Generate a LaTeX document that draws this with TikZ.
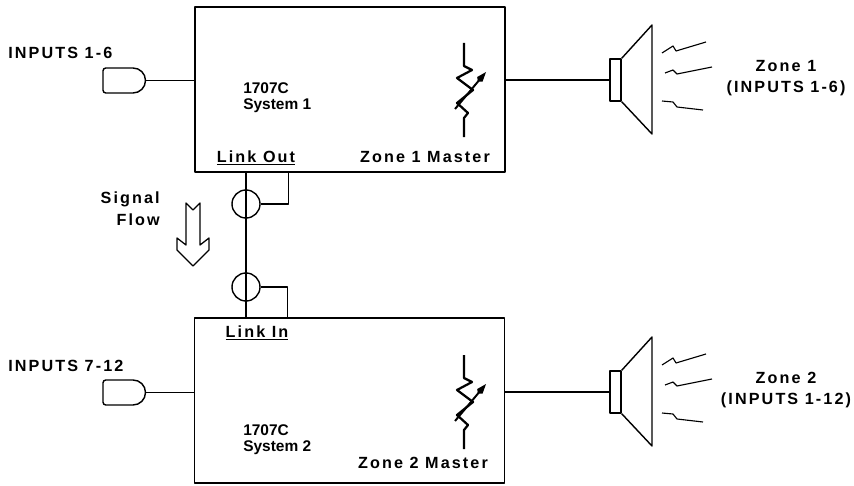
\documentclass[tikz,border=0pt]{standalone}
\usepackage{fontspec}
\setmainfont{Liberation Sans}
\newfontfamily\lblfont[LetterSpace=13]{Liberation Sans}
\usetikzlibrary{positioning,arrows.meta}

\tikzset{
  wire/.style={line width=1pt},
  sysbox/.style={draw, line width=1.2pt, minimum width=7.75cm, minimum height=4.125cm, inner sep=0pt},
  lbl/.style={font=\lblfont\bfseries\fontsize{11.5}{15}\selectfont, inner sep=0pt},
  boxtext/.style={font=\bfseries\fontsize{11}{11.5}\selectfont, inner sep=0pt, align=left},
  coax/.style={draw, circle, line width=1pt, minimum size=0.7cm, inner sep=0pt},
  magnet/.style={draw, line width=1pt, minimum width=0.275cm, minimum height=1.05cm, inner sep=0pt},
}

\begin{document}
\begin{tikzpicture}[x=0.025cm, y=0.025cm, line join=round]
  \useasboundingbox (0,0) rectangle (854,-486);

  \node[sysbox] (sys1) at (350,-89.5) {};
  \node[sysbox] (sys2) at (349.5,-400.5) {};

  \node[boxtext, anchor=north west] (name1) at (243,-82) {1707C\\System 1};
  \node[boxtext, anchor=north west] (name2) at (243,-424) {1707C\\System 2};
  \node[lbl] (linkout) at (256,-158) {\underline{Link Out}};
  \node[lbl] (linkin) at (257,-333) {\underline{Link In}};
  \node[lbl] (master1) at (425,-157) {Zone 1 Master};
  \node[lbl] (master2) at (423,-463) {Zone 2 Master};

  \foreach \i/\dy/\inp/\zone in {1/0/1-6/{(INPUTS 1-6)}, 2/312/7-12/{(INPUTS 1-12)}} {
    % input jack
    \draw[wire] (133,-68-\dy) [rounded corners=2pt] -- (103,-68-\dy) -- (103,-93-\dy)
      [sharp corners] -- (133,-93-\dy) arc[start angle=-90, end angle=90, radius=0.3125cm];
    \coordinate (jack\i) at (145.5,-80.5-\dy);
    \node[lbl, anchor=base west] (inlbl\i) at (8,-59-\dy) {INPUTS \inp};
    \draw[wire] (jack\i) -- (sys\i.west |- jack\i);
    % level control
    \draw[line width=1.6pt] (464,-43-\dy) -- (464,-66-\dy) -- (472,-70-\dy) -- (457,-78-\dy)
      -- (473,-90-\dy) -- (457,-103-\dy) -- (468,-113-\dy) -- (464,-118-\dy) -- (464,-137-\dy);
    \draw[line width=1.4pt, -{Kite[length=9pt, width=5pt]}] (455,-109-\dy) -- (486,-72-\dy);
    % speaker
    \node[magnet] (spk\i) at (615.5,-80-\dy) {};
    \draw[wire] (sys\i.east |- spk\i) -- (spk\i.west);
    \draw[wire] (spk\i.north east) -- (652,-25-\dy) -- (652,-134-\dy) -- (spk\i.south east);
    \draw[line width=0.8pt] (662,-53-\dy) -- (673,-46-\dy) -- (676,-51-\dy) -- (706,-42-\dy);
    \draw[line width=0.8pt] (665,-73-\dy) -- (673,-70-\dy) -- (677,-74-\dy) -- (712,-67-\dy);
    \draw[line width=0.8pt] (662,-101-\dy) -- (673,-102-\dy) -- (677,-107-\dy) -- (703,-110-\dy);
    \node[lbl, align=center] (zone\i) at (786,-78-\dy) {Zone \i\\\zone};
  }

  % link cable
  \node[coax] (lnkout) at (246,-204) {};
  \node[coax] (lnkin) at (246,-287) {};
  \draw[wire] (sys1.south -| lnkout) -- (sys2.north -| lnkin);
  \draw[wire] (lnkout.east) -- ++(28,0) coordinate (shout) -- (shout |- sys1.south);
  \draw[wire] (lnkin.east) -- ++(27,0) coordinate (shin) -- (shin |- sys2.north);

  % signal flow
  \draw[line width=0.9pt] (186,-203) -- (193,-210) -- (200,-203) -- (200,-245) -- (209,-238)
    -- (209,-250) -- (193,-266) -- (177,-250) -- (177,-238) -- (186,-245) -- cycle;
  \node[lbl, align=right, anchor=base east, font=\lblfont\bfseries\fontsize{11.5}{15}\selectfont] (flow) at (160,-225) {Signal\\Flow};
\end{tikzpicture}
\end{document}
